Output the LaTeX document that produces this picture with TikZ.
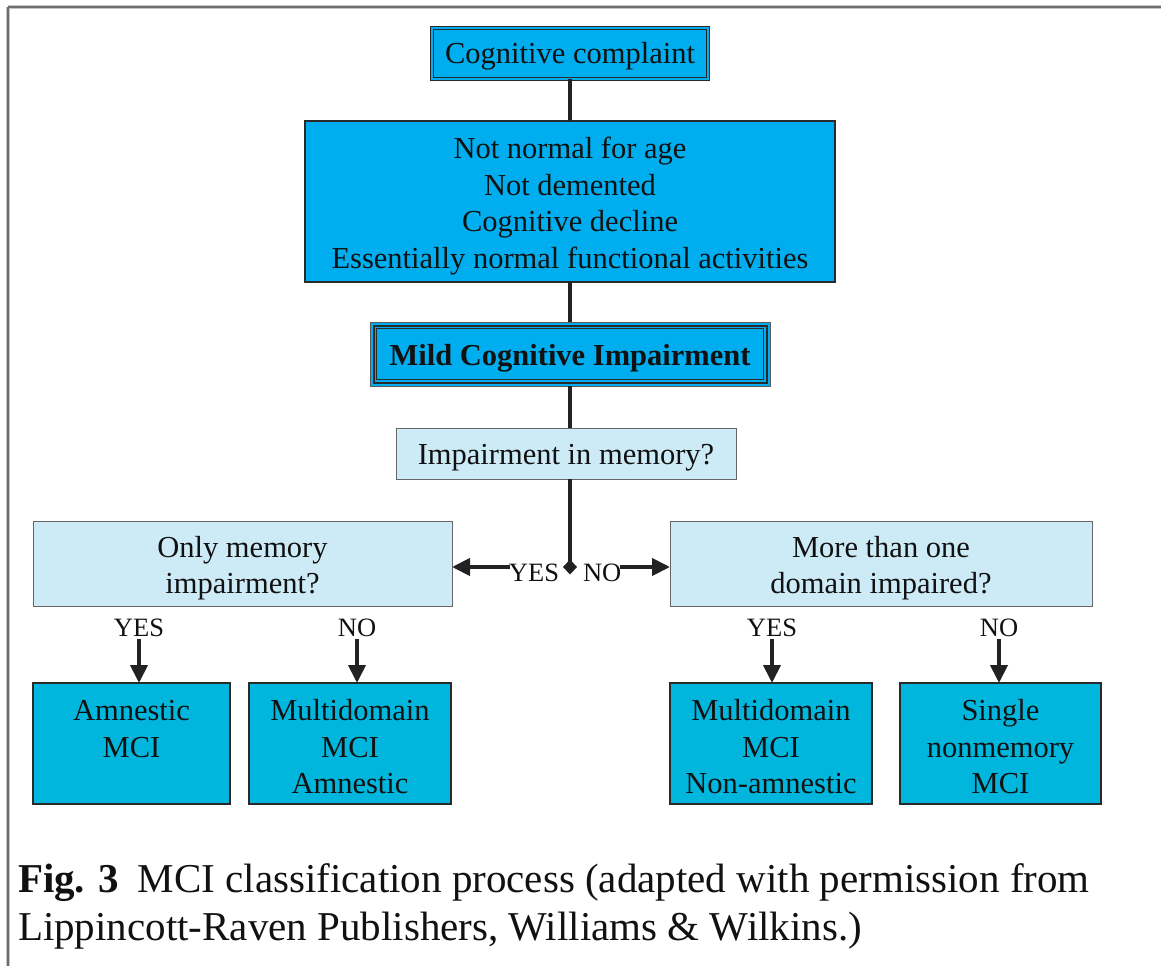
\documentclass[tikz,border=0pt]{standalone}
\usepackage{fontspec}
\setmainfont{Liberation Serif}
\usetikzlibrary{arrows.meta,shapes.geometric}
\definecolor{cyanA}{HTML}{00AEEF}
\definecolor{cyanB}{HTML}{00B6DD}
\definecolor{lightC}{HTML}{CDEBF7}
\definecolor{edgeC}{HTML}{2A2A2A}
\definecolor{lineC}{HTML}{222222}
\definecolor{frameC}{HTML}{6E6E6E}
\definecolor{txtC}{HTML}{111111}
\begin{document}
\begin{tikzpicture}[x=1pt,y=-1pt,
  every node/.style={inner sep=0pt,outer sep=0pt,text=txtC},
  boxtxt/.style={font=\fontsize{30.5}{36.5}\selectfont,align=center,yshift=-4.5pt},
  topbox/.style={fill=cyanA,draw=edgeC,line width=1.6pt},
  lightbox/.style={fill=lightC,draw=gray!80!black,line width=1pt},
  endbox/.style={fill=cyanB,draw=edgeC,line width=1.1pt,minimum height=121pt},
  yn/.style={font=\fontsize{26.5}{30}\selectfont},
  conn/.style={draw=lineC,line width=3.5pt},
  arr/.style={draw=lineC,line width=4pt,-{Triangle[length=18pt,width=17pt]}}]
\useasboundingbox (0,0) rectangle (1161,966);
% frame
\draw[frameC!40,line width=4pt] (8,7) -- (1161,7);
\draw[frameC!40,line width=4pt] (8,7) -- (8,966);
\draw[frameC,line width=1.8pt] (8,7) -- (1161,7);
\draw[frameC,line width=1.8pt] (8,7) -- (8,966);
% top boxes
\node[topbox,minimum width=276pt,minimum height=51pt,double=cyanA,double distance=2.2pt,line width=1.2pt,
  label={[boxtxt,yshift=1.5pt]center:Cognitive complaint}] (cc) at (570,53.5) {};
\node[topbox,minimum width=530pt,minimum height=161pt,line width=2.2pt,
  label={[boxtxt]center:{Not normal for age\\Not demented\\Cognitive decline\\Essentially normal functional activities}}] (crit) at (570,201.5) {};
\node[fill=cyanA,draw=gray!70!black,line width=1pt,minimum width=400pt,minimum height=64pt,
  label={[boxtxt,font=\fontsize{30.5}{36}\selectfont\bfseries]center:Mild Cognitive Impairment}] (mci) at (570,354) {};
\draw[edgeC,line width=2pt] ([shift={(3.5,3.5)}]mci.north west) rectangle ([shift={(-3.5,-3.5)}]mci.south east);
\draw[edgeC,line width=0.9pt] ([shift={(6.5,6.5)}]mci.north west) rectangle ([shift={(-6.5,-6.5)}]mci.south east);
\node[lightbox,minimum width=340pt,minimum height=51pt,
  label={[boxtxt]center:Impairment in memory?}] (imp) at (566,453.5) {};
% second level
\node[lightbox,minimum width=419pt,minimum height=85pt,
  label={[boxtxt]center:{Only memory\\impairment?}}] (only) at (242.5,563.5) {};
\node[lightbox,minimum width=422pt,minimum height=85pt,
  label={[boxtxt]center:{More than one\\domain impaired?}}] (more) at (881,563.5) {};
% bottom boxes
\node[endbox,minimum width=197pt,
  label={[boxtxt,yshift=1pt]center:{Amnestic\\MCI\\\phantom{A}}}] (amn) at (131.5,743.5) {};
\node[endbox,minimum width=202pt,
  label={[boxtxt,yshift=1pt]center:{Multidomain\\MCI\\Amnestic}}] (mda) at (350,743.5) {};
\node[endbox,minimum width=202pt,
  label={[boxtxt,yshift=1pt]center:{Multidomain\\MCI\\Non-amnestic}}] (mdn) at (771,743.5) {};
\node[endbox,minimum width=201pt,
  label={[boxtxt,yshift=1pt]center:{Single\\nonmemory\\MCI}}] (snm) at (1000.5,743.5) {};
% connectors top
\coordinate (c1) at (570,0);
\draw[conn] (c1 |- cc.south) -- (c1 |- crit.north);
\draw[conn] (c1 |- crit.south) -- (c1 |- mci.north);
\draw[conn] (c1 |- mci.south) -- (c1 |- imp.north);
\node[diamond,fill=lineC,minimum width=14pt,minimum height=15pt] (dj) at (570,567) {};
\draw[conn] (c1 |- imp.south) -- (dj.center);
\node[yn,anchor=east] (yesm) at (559,573) {YES};
\node[yn,anchor=west] (nom) at (583,573) {NO};
\draw[arr] ([xshift=1pt]yesm.west |- dj) -- (only.east |- dj);
\draw[arr] ([xshift=-1pt]nom.east |- dj) -- (more.west |- dj);
% lower labels and arrows
\node[yn] (y1) at (139,628) {YES};
\node[yn] (n1) at (357,628) {NO};
\node[yn] (y2) at (772,628) {YES};
\node[yn] (n2) at (999,628) {NO};
\draw[arr] ([yshift=-2pt]y1.south) -- (y1.south |- amn.north);
\draw[arr] ([yshift=-2pt]n1.south) -- (n1.south |- mda.north);
\draw[arr] ([yshift=-2pt]y2.south) -- (y2.south |- mdn.north);
\draw[arr] ([yshift=-2pt]n2.south) -- (n2.south |- snm.north);
% caption
\node[anchor=north west,align=left,font=\fontsize{41}{48}\selectfont] (cap) at (18,864)
  {\textbf{Fig. 3}\hspace{0.45em}MCI classification process (adapted with permission from\\Lippincott-Raven Publishers, Williams \& Wilkins.)};
\end{tikzpicture}
\end{document}
